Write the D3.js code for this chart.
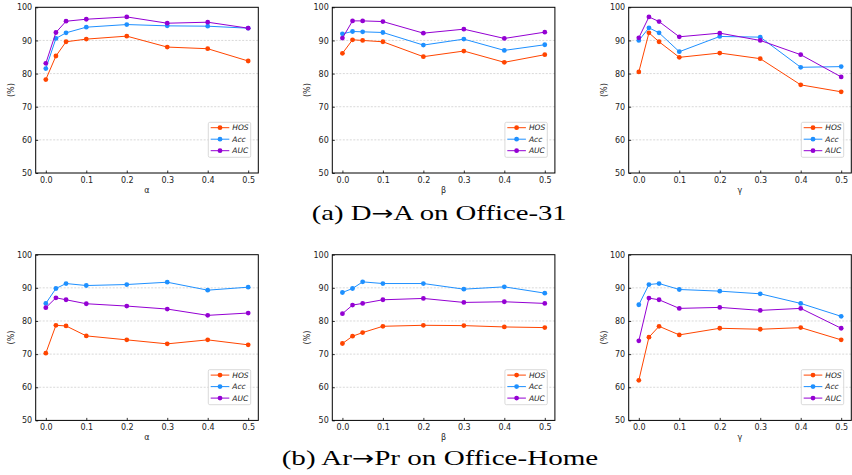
<!DOCTYPE html>
<html>
<head>
<meta charset="utf-8">
<script src="https://cdn.jsdelivr.net/npm/d3@7"></script>
<style>
body { margin: 0; background: #fff; }
svg { display: block; }
.tick text { font-family: "DejaVu Sans", sans-serif; font-size: 8px; fill: #222; }
</style>
</head>
<body>
<svg id="chart" width="852" height="475"></svg>
<script>
// x positions of the parameter sweep
const params = [0, 0.025, 0.05, 0.1, 0.2, 0.3, 0.4, 0.5];
const xTicks = [0, 0.1, 0.2, 0.3, 0.4, 0.5];
const yTicks = [50, 60, 70, 80, 90, 100];
const seriesNames = ["HOS", "Acc", "AUC"];
const colors = ["#ff4500", "#1e90ff", "#9400d3"];

// (a) D->A on Office-31
const a_alpha_hos = [78.2, 85.3, 89.6, 90.4, 91.3, 88.0, 87.5, 83.8];
const a_alpha_acc = [81.5, 90.6, 92.3, 94.0, 94.8, 94.4, 94.3, 93.7];
const a_alpha_auc = [83.1, 92.4, 95.8, 96.4, 97.1, 95.2, 95.5, 93.7];

const a_beta_hos = [86.1, 90.2, 90.0, 89.6, 85.1, 86.8, 83.4, 85.7];
const a_beta_acc = [92.0, 92.7, 92.6, 92.4, 88.6, 90.4, 87.0, 88.7];
const a_beta_auc = [90.7, 95.9, 95.9, 95.7, 92.2, 93.4, 90.6, 92.5];

const a_gamma_hos = [80.5, 92.3, 89.6, 84.9, 86.2, 84.5, 76.6, 74.5];
const a_gamma_acc = [90.0, 93.8, 92.3, 86.6, 91.2, 91.0, 81.9, 82.1];
const a_gamma_auc = [90.8, 97.1, 95.7, 91.1, 92.2, 90.0, 85.7, 79.0];

// (b) Ar->Pr on Office-Home
const b_alpha_hos = [70.3, 78.7, 78.5, 75.5, 74.3, 73.1, 74.3, 72.8];
const b_alpha_acc = [85.3, 89.8, 91.3, 90.7, 91.0, 91.7, 89.3, 90.2];
const b_alpha_auc = [84.0, 87.0, 86.4, 85.2, 84.5, 83.6, 81.7, 82.4];

const b_beta_hos = [73.2, 75.4, 76.5, 78.4, 78.7, 78.6, 78.2, 78.0];
const b_beta_acc = [88.6, 89.8, 91.8, 91.3, 91.3, 89.6, 90.3, 88.4];
const b_beta_auc = [82.2, 84.8, 85.3, 86.4, 86.8, 85.6, 85.8, 85.3];

const b_gamma_hos = [62.1, 75.1, 78.4, 75.8, 77.8, 77.5, 78.0, 74.3];
const b_gamma_acc = [84.9, 91.0, 91.3, 89.5, 89.0, 88.2, 85.3, 81.4];
const b_gamma_auc = [74.0, 86.9, 86.4, 83.8, 84.1, 83.2, 83.8, 77.8];

const panelData = [
	{label: "α", series: [a_alpha_hos, a_alpha_acc, a_alpha_auc]},
	{label: "β", series: [a_beta_hos, a_beta_acc, a_beta_auc]},
	{label: "γ", series: [a_gamma_hos, a_gamma_acc, a_gamma_auc]},
	{label: "α", series: [b_alpha_hos, b_alpha_acc, b_alpha_auc]},
	{label: "β", series: [b_beta_hos, b_beta_acc, b_beta_auc]},
	{label: "γ", series: [b_gamma_hos, b_gamma_acc, b_gamma_auc]}
];

// caption pieces: before arrow, after arrow
const captions = [["(a) D", "A on Office-31"], ["(b) Ar", "Pr on Office-Home"]];

// layout
const pw = 222.6;
const ph = 165.7;
const lefts = [35.7, 332.3, 628.7];
const tops = [7.3, 254.7];

const svg = d3.select("#chart");

const x = d3.scaleLinear().domain([-0.025, 0.525]).range([0, pw]);
const y = d3.scaleLinear().domain([50, 100]).range([ph, 0]);

panelData.forEach((p, i) => {
	const g = svg.append("g")
	.attr("transform", "translate(" + lefts[i % 3] + "," + tops[Math.floor(i / 3)] + ")");

	// grid
	g.selectAll(".grid")
	.data(yTicks.slice(1, -1))
	.enter()
	.append("line")
	.attr("x1", 0)
	.attr("x2", pw)
	.attr("y1", d => y(d))
	.attr("y2", d => y(d))
	.attr("stroke", "#c8c8c8")
	.attr("stroke-width", 0.7)
	.attr("stroke-dasharray", "2,1.5");

	// axes, ticks pointing in
	const xa = g.append("g")
	.attr("transform", "translate(0," + ph + ")")
	.call(d3.axisBottom(x).tickValues(xTicks).tickFormat(d3.format(".1f")).tickSizeInner(-2.5).tickSizeOuter(0).tickPadding(4));
	const ya = g.append("g")
	.call(d3.axisLeft(y).tickValues(yTicks).tickSizeInner(-2.5).tickSizeOuter(0).tickPadding(3.5));
	[xa, ya].forEach(a => {
		a.select(".domain").remove();
		a.selectAll(".tick line").attr("stroke", "#000").attr("stroke-width", 0.8);
	});

	// lines and markers
	p.series.forEach((vals, s) => {
		const pts = params.map((v, k) => [v, vals[k]]);
		g.append("path")
		.datum(pts)
		.attr("fill", "none")
		.attr("stroke", colors[s])
		.attr("stroke-width", 1)
		.attr("d", d3.line().x(d => x(d[0])).y(d => y(d[1])));
		g.selectAll(".m" + s)
		.data(pts)
		.enter()
		.append("circle")
		.attr("cx", d => x(d[0]))
		.attr("cy", d => y(d[1]))
		.attr("r", 2.4)
		.attr("fill", colors[s]);
	});

	// frame
	g.append("rect")
	.attr("width", pw)
	.attr("height", ph)
	.attr("fill", "none")
	.attr("stroke", "#000")
	.attr("stroke-width", 1);

	// axis labels
	g.append("text")
	.attr("x", x(0.25))
	.attr("y", ph + 20)
	.attr("text-anchor", "middle")
	.style("font-family", "DejaVu Sans, sans-serif")
	.style("font-size", "8px")
	.attr("fill", "#222")
	.text(p.label);

	g.append("text")
	.attr("transform", "translate(-22," + (ph / 2) + ") rotate(-90)")
	.attr("text-anchor", "middle")
	.style("font-family", "DejaVu Sans, sans-serif")
	.style("font-size", "8px")
	.attr("fill", "#222")
	.text("(%)");

	// legend
	const lw = 42.4, lh = 35;
	const lg = g.append("g")
	.attr("transform", "translate(" + (pw - 7.6 - lw) + "," + (ph - 15.7 - lh) + ")");
	lg.append("rect")
	.attr("width", lw)
	.attr("height", lh)
	.attr("rx", 1.5)
	.attr("fill", "#fff")
	.attr("fill-opacity", 0.8)
	.attr("stroke", "#d0d0d0")
	.attr("stroke-width", 0.8);
	seriesNames.forEach((name, s) => {
		const ly = 5.4 + s * 11.5;
		lg.append("line")
		.attr("x1", 2.4).attr("x2", 21)
		.attr("y1", ly).attr("y2", ly)
		.attr("stroke", colors[s])
		.attr("stroke-width", 1);
		lg.append("circle")
		.attr("cx", 11.7).attr("cy", ly)
		.attr("r", 2.4)
		.attr("fill", colors[s]);
		lg.append("text")
		.attr("x", 24)
		.attr("y", ly + 2.6)
		.style("font-family", "DejaVu Sans, sans-serif")
		.style("font-size", "7.5px")
		.style("font-style", "italic")
		.attr("fill", "#222")
		.text(name);
	});
});

// captions, stretched to the width of the original serif typesetting
const capY = [220, 465];
const capW = [255, 316.6];
const capX = [439.2, 440];
captions.forEach((c, r) => {
	const t = svg.append("text")
	.attr("x", capX[r])
	.attr("y", capY[r])
	.attr("text-anchor", "middle")
	.attr("textLength", capW[r])
	.attr("lengthAdjust", "spacingAndGlyphs")
	.style("font-family", "Liberation Serif, DejaVu Serif, serif")
	.style("font-size", "22px")
	.attr("fill", "#000");
	t.append("tspan").text(c[0]);
	t.append("tspan").style("font-family", "DejaVu Sans, sans-serif").style("font-size", "20px").text("→");
	t.append("tspan").text(c[1]);
});
</script>
</body>
</html>
